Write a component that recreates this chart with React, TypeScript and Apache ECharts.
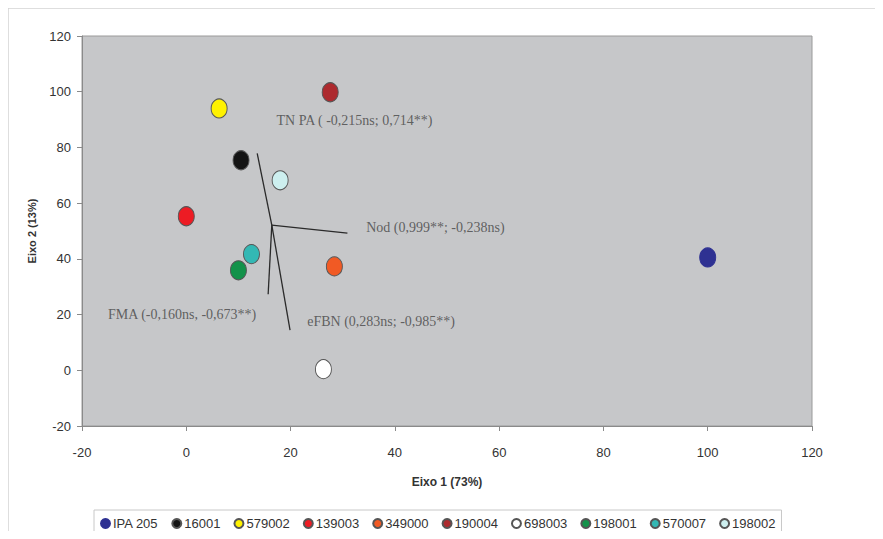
import React, { useEffect, useRef } from "react";
import * as echarts from "echarts";

const genotypes = ["IPA 205", "16001", "579002", "139003", "349000", "190004", "698003", "198001", "570007", "198002"];
const eixo1 = [100, 10.5, 6.3, 0, 28.4, 27.6, 26.3, 10, 12.5, 18];
const eixo2 = [40.5, 75.4, 94, 55.3, 37.3, 99.8, 0.4, 35.9, 41.7, 68.2];
const colors = ["#2E3192", "#141414", "#FFF200", "#ED1C24", "#F15A24", "#AD2A2E", "#FFFFFF", "#13924A", "#33B8B4", "#CDEFEF"];

const vectorOrigin = [16.4, 52.1];
const vectorNames = ["TN PA", "Nod", "FMA", "eFBN"];
const vectorEnds = [
  [13.6, 77.9],
  [30.9, 49.2],
  [15.7, 27.3],
  [19.9, 14.4],
];
const vectorLabels = [
  "TN PA ( -0,215ns; 0,714**)",
  "Nod (0,999**; -0,238ns)",
  "FMA (-0,160ns, -0,673**)",
  "eFBN (0,283ns; -0,985**)",
];
const vectorLabelPos = [
  [17.3, 89.8],
  [34.5, 51.3],
  [-15, 20.1],
  [23.2, 17.6],
];

const xTicks = { min: -20, max: 120, interval: 20 };
const yTicks = { min: -20, max: 120, interval: 20 };

const sans = "'Liberation Sans', Arial, sans-serif";
const serif = "'Liberation Serif', 'Times New Roman', serif";

export default function App() {
  const ref = useRef<HTMLDivElement>(null);
  useEffect(() => {
    if (!ref.current) return;
    const chart = echarts.init(ref.current, null, { renderer: "svg" });
    const pointSeries = genotypes.map((g, i) => ({
      name: g,
      type: "scatter",
      symbol: "circle",
      symbolSize: [16, 19],
      data: [[eixo1[i], eixo2[i]]],
      itemStyle: {
        color: colors[i],
        borderColor: i === 0 ? colors[i] : "#555",
        borderWidth: 1,
        opacity: 1,
      },
      z: 3,
    }));
    chart.setOption({
      animation: false,
      backgroundColor: "#ffffff",
      graphic: [
        {
          type: "rect",
          shape: { x: 0, y: 0, width: 1000, height: 700 },
          style: { fill: "none", stroke: "#d4d4d4", lineWidth: 1.5 },
          silent: true,
          z: -10,
        },
      ],
      grid: {
        left: 74,
        top: 28,
        right: 63,
        bottom: 105,
        show: true,
        backgroundColor: "#C6C7C9",
        borderColor: "#9a9a9a",
        borderWidth: 1,
      },
      xAxis: {
        type: "value",
        ...xTicks,
        name: "Eixo 1 (73%)",
        nameLocation: "middle",
        nameGap: 50,
        nameTextStyle: { fontFamily: sans, fontWeight: "bold", fontSize: 12, color: "#333" },
        axisLine: { show: true, onZero: false, lineStyle: { color: "#8a8a8a", width: 1 } },
        axisTick: { show: true, length: 5, lineStyle: { color: "#8a8a8a" } },
        axisLabel: { fontFamily: sans, fontSize: 13, color: "#333", margin: 20 },
        splitLine: { show: false },
      },
      yAxis: {
        type: "value",
        ...yTicks,
        name: "Eixo 2 (13%)",
        nameLocation: "middle",
        nameGap: 45,
        nameRotate: 90,
        nameTextStyle: { fontFamily: sans, fontWeight: "bold", fontSize: 11, color: "#333" },
        axisLine: { show: true, onZero: false, lineStyle: { color: "#8a8a8a", width: 1 } },
        axisTick: { show: true, length: 5, lineStyle: { color: "#8a8a8a" } },
        axisLabel: { fontFamily: sans, fontSize: 13, color: "#333", margin: 11 },
        splitLine: { show: false },
      },
      legend: {
        data: genotypes,
        left: 86,
        top: 502,
        icon: "circle",
        itemWidth: 9,
        itemHeight: 9,
        itemGap: 13,
        padding: [7, 6, 7, 6],
        borderColor: "#c8c8c8",
        borderWidth: 1,
        textStyle: { fontFamily: sans, fontSize: 13, color: "#333", padding: [0, 0, 0, -2] },
      },
      series: [
        ...pointSeries,
        {
          type: "lines",
          coordinateSystem: "cartesian2d",
          silent: true,
          lineStyle: { color: "#2a2a2a", width: 1.3, opacity: 1 },
          data: vectorEnds.map((e, i) => ({ name: vectorNames[i], coords: [vectorOrigin, e] })),
          z: 2,
        },
        {
          type: "scatter",
          symbolSize: 0,
          silent: true,
          data: vectorLabels.map((t, i) => ({ name: t, value: vectorLabelPos[i] })),
          label: {
            show: true,
            position: "right",
            distance: 0,
            formatter: (p: any) => p.name,
            fontFamily: serif,
            fontSize: 14,
            color: "#444",
          },
          z: 4,
        },
      ],
    });
    return () => chart.dispose();
  }, []);
  return <div ref={ref} style={{ width: 867, height: 523 }} />;
}
